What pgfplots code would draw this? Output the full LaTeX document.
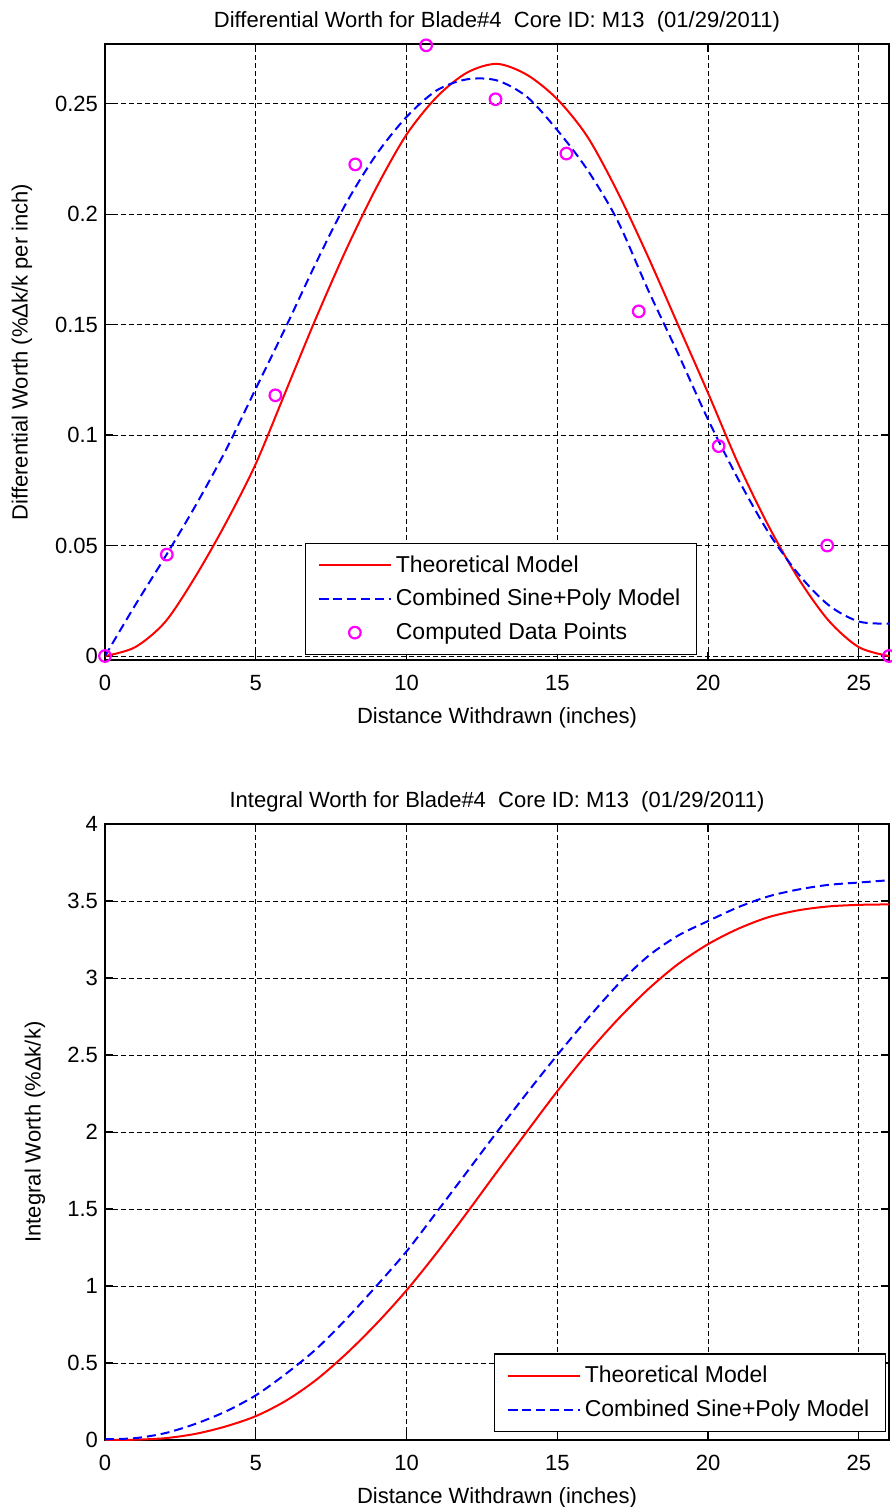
\documentclass[border=0pt]{standalone}
\usepackage{fontspec}
\setmainfont{Liberation Sans}
\usepackage{pgfplots}
\usepackage{pgfplotstable}
\pgfplotsset{compat=1.18}
\definecolor{mred}{HTML}{FF0000}
\definecolor{mblue}{HTML}{0000FF}
\definecolor{mmag}{HTML}{FF00FF}

% differential worth (%dk/k per inch)
\pgfplotstableread{
x theo comb
0 0 0
1 0.004 0.023
2 0.0155 0.045
3 0.036 0.068
4 0.060 0.093
5 0.087 0.121
6 0.120 0.149
7 0.153 0.178
8 0.184 0.205
9 0.212 0.227
10 0.236 0.244
11 0.253 0.256
12 0.264 0.261
13 0.268 0.2605
14 0.263 0.253
15 0.252 0.238
16 0.235 0.220
17 0.210 0.197
18 0.181 0.166
19 0.150 0.137
20 0.119 0.107
21 0.087 0.080
22 0.059 0.056
23 0.035 0.037
24 0.016 0.023
25 0.004 0.0156
26 0 0.0147
}\diffdata

\pgfplotstableread{
x y
0 0
2.05 0.0459
5.65 0.118
8.3 0.2225
10.65 0.2764
12.95 0.252
15.3 0.2274
17.7 0.156
20.35 0.095
23.95 0.050
26 0
}\pointdata

% integral worth (%dk/k)
\pgfplotstableread{
x theo comb
0 0 0.005
1 0.002 0.012
2 0.012 0.045
3 0.040 0.105
4 0.088 0.185
5 0.155 0.290
6 0.255 0.430
7 0.390 0.590
8 0.560 0.785
9 0.755 1.000
10 0.972 1.225
11 1.215 1.480
12 1.475 1.740
13 1.742 2.000
14 2.005 2.255
15 2.265 2.500
16 2.510 2.735
17 2.730 2.955
18 2.925 3.140
19 3.090 3.275
20 3.220 3.370
21 3.320 3.460
22 3.395 3.530
23 3.440 3.575
24 3.465 3.605
25 3.475 3.620
26 3.478 3.635
}\intdata

\pgfplotsset{
  mlab/.style={
    scale only axis, width=392pt, height=308pt,
    anchor=south west,
    xmin=0, xmax=26, xtick={0,5,...,25},
    grid=major,
    grid style={black, line width=0.5pt, dash pattern=on 2.5pt off 1.5pt},
    tick align=inside, tick pos=both, major tick length=4pt,
    axis line style={line width=0.6pt},
    tick style={black, line width=0.6pt},
    tick label style={font=\fontsize{11}{13}\selectfont},
    label style={font=\fontsize{11}{13}\selectfont},
    title style={font=\fontsize{11}{13}\selectfont,
      at={([yshift=5pt]rel axis cs:0.5,1)}, anchor=center},
    /pgf/number format/assume math mode=true,
    scaled ticks=false,
    yticklabel style={/pgf/number format/fixed, /pgf/number format/precision=2},
    xticklabel style={yshift=-4pt},
    xlabel={Distance Withdrawn (inches)},
    xlabel style={at={([yshift=-29pt]rel axis cs:0.5,0)}, anchor=center},
    legend style={font=\fontsize{11.5}{14}\selectfont, draw=black,
      line width=0.6pt, inner xsep=6pt, inner ysep=4pt,
      row sep=3pt},
    legend cell align=left,
    legend image code/.code={%
      \draw[mark repeat=2, mark phase=2, #1]
        plot coordinates {(0pt,0pt) (18pt,0pt) (36pt,0pt)};},
  },
  theo/.style={mred, line width=1pt, smooth},
  comb/.style={mblue, line width=1pt, dash pattern=on 4.5pt off 2.5pt, smooth},
}

\begin{document}
\begin{tikzpicture}
\path[use as bounding box] (0,0) rectangle (445.5pt,-753.5pt);

\begin{axis}[mlab,
    at={(52.5pt,-330pt)},
    ymin=-0.0018, ymax=0.277,
    ytick={0,0.05,...,0.25},
    title={Differential Worth for Blade\#4~~Core ID: M13~~(01/29/2011)},
    ylabel={Differential Worth (\%Δk/k per inch)},
    ylabel style={at={([xshift=-41.5pt]rel axis cs:0,0.5)}, anchor=center},
    legend style={at={(rel axis cs:0.755,0.008)}, anchor=south east},
  ]
  \addplot[theo] table[x=x, y=theo] {\diffdata};
  \addplot[comb] table[x=x, y=comb] {\diffdata};
  \addplot[only marks, mark=o, mark size=2.9pt,
    mark options={draw=mmag, line width=1.1pt, solid}] table[x=x, y=y] {\pointdata};
  \legend{Theoretical Model, Combined Sine+Poly Model, Computed Data Points}
\end{axis}

\begin{axis}[mlab,
    at={(52.5pt,-720pt)},
    ymin=0, ymax=4,
    ytick={0,0.5,...,4},
    title={Integral Worth for Blade\#4~~Core ID: M13~~(01/29/2011)},
    ylabel={Integral Worth (\%Δk/k)},
    ylabel style={at={([xshift=-35pt]rel axis cs:0,0.5)}, anchor=center},
    legend style={at={(rel axis cs:0.996,0.013)}, anchor=south east},
  ]
  \addplot[theo] table[x=x, y=theo] {\intdata};
  \addplot[comb] table[x=x, y=comb] {\intdata};
  \legend{Theoretical Model, Combined Sine+Poly Model}
\end{axis}
\end{tikzpicture}
\end{document}
